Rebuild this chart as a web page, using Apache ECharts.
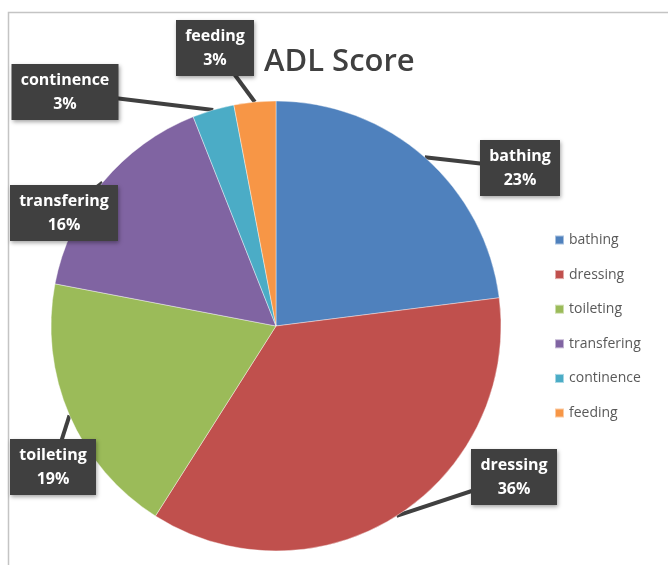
<!DOCTYPE html>
<html>
<head>
<meta charset="utf-8">
<script src="https://cdn.jsdelivr.net/npm/echarts@6/dist/echarts.min.js"></script>
<style>
  html, body { margin: 0; padding: 0; background: #fff; }
  #chart { width: 668px; height: 565px; }
</style>
</head>
<body>
<div id="chart"></div>
<script>
// ADL score breakdown (percent of total)
const categories = ['bathing', 'dressing', 'toileting', 'transfering', 'continence', 'feeding'];
const scores = [23, 36, 19, 16, 3, 3];
const sliceColors = ['#4F81BD', '#C0504D', '#9BBB59', '#8064A2', '#4BACC6', '#F79646'];

// Centre of each callout box, per category
const calloutCentres = [
  [520, 168], [514, 477], [53, 467], [64, 213], [65, 92], [215, 48]
];

const LABEL_FONT = 'bold 16px "Open Sans"';
const measureCtx = document.createElement('canvas').getContext('2d');
function calloutTextWidth(i) {
  measureCtx.font = LABEL_FONT;
  const lines = [categories[i], scores[i] + '%'];
  return Math.ceil(Math.max(...lines.map(t => measureCtx.measureText(t).width))) + 2;
}

const chart = echarts.init(document.getElementById('chart'), null, { renderer: 'canvas' });

const data = categories.map((name, i) => ({
  name,
  value: scores[i],
  itemStyle: { color: sliceColors[i] }
}));

chart.setOption({
  animation: false,
  title: {
    text: 'ADL Score',
    left: 259,
    top: 42,
    textStyle: {
      fontFamily: 'Open Sans',
      fontSize: 31,
      fontWeight: 600,
      color: '#404040'
    }
  },
  legend: {
    orient: 'vertical',
    left: 549,
    top: 228,
    icon: 'rect',
    itemWidth: 9,
    itemHeight: 9,
    itemGap: 20.6,
    textStyle: {
      fontFamily: 'Open Sans',
      fontSize: 14,
      color: '#595959'
    },
    data: categories
  },
  graphic: [{
    type: 'rect',
    silent: true,
    shape: { x: 8.5, y: 12.5, width: 700, height: 600 },
    style: { fill: 'none', stroke: '#c4c4c4', lineWidth: 1.5 }
  }],
  series: [{
    type: 'pie',
    center: [276, 326],
    radius: 225,
    startAngle: 90,
    clockwise: true,
    data,
    itemStyle: {
      borderColor: 'rgba(255,255,255,0.5)',
      borderWidth: 0.8
    },
    label: {
      show: true,
      position: 'outside',
      overflow: 'none',
      formatter: p => p.name + '\n' + p.value + '%',
      fontFamily: 'Open Sans',
      fontWeight: 'bold',
      fontSize: 16,
      lineHeight: 24,
      color: '#ffffff',
      align: 'center',
      backgroundColor: '#404040',
      padding: [4, 8],
      shadowColor: 'rgba(0,0,0,0.35)',
      shadowBlur: 4,
      shadowOffsetX: 1,
      shadowOffsetY: 2
    },
    labelLine: {
      show: true,
      lineStyle: { color: '#404040', width: 4 }
    },
    labelLayout: params => {
      const i = params.dataIndex;
      const c = calloutCentres[i];
      const tip = params.labelLinePoints ? params.labelLinePoints[0] : c;
      return {
        x: c[0],
        y: c[1],
        align: 'center',
        verticalAlign: 'middle',
        width: calloutTextWidth(i),
        labelLinePoints: [tip, c, c]
      };
    }
  }]
});
</script>
</body>
</html>
